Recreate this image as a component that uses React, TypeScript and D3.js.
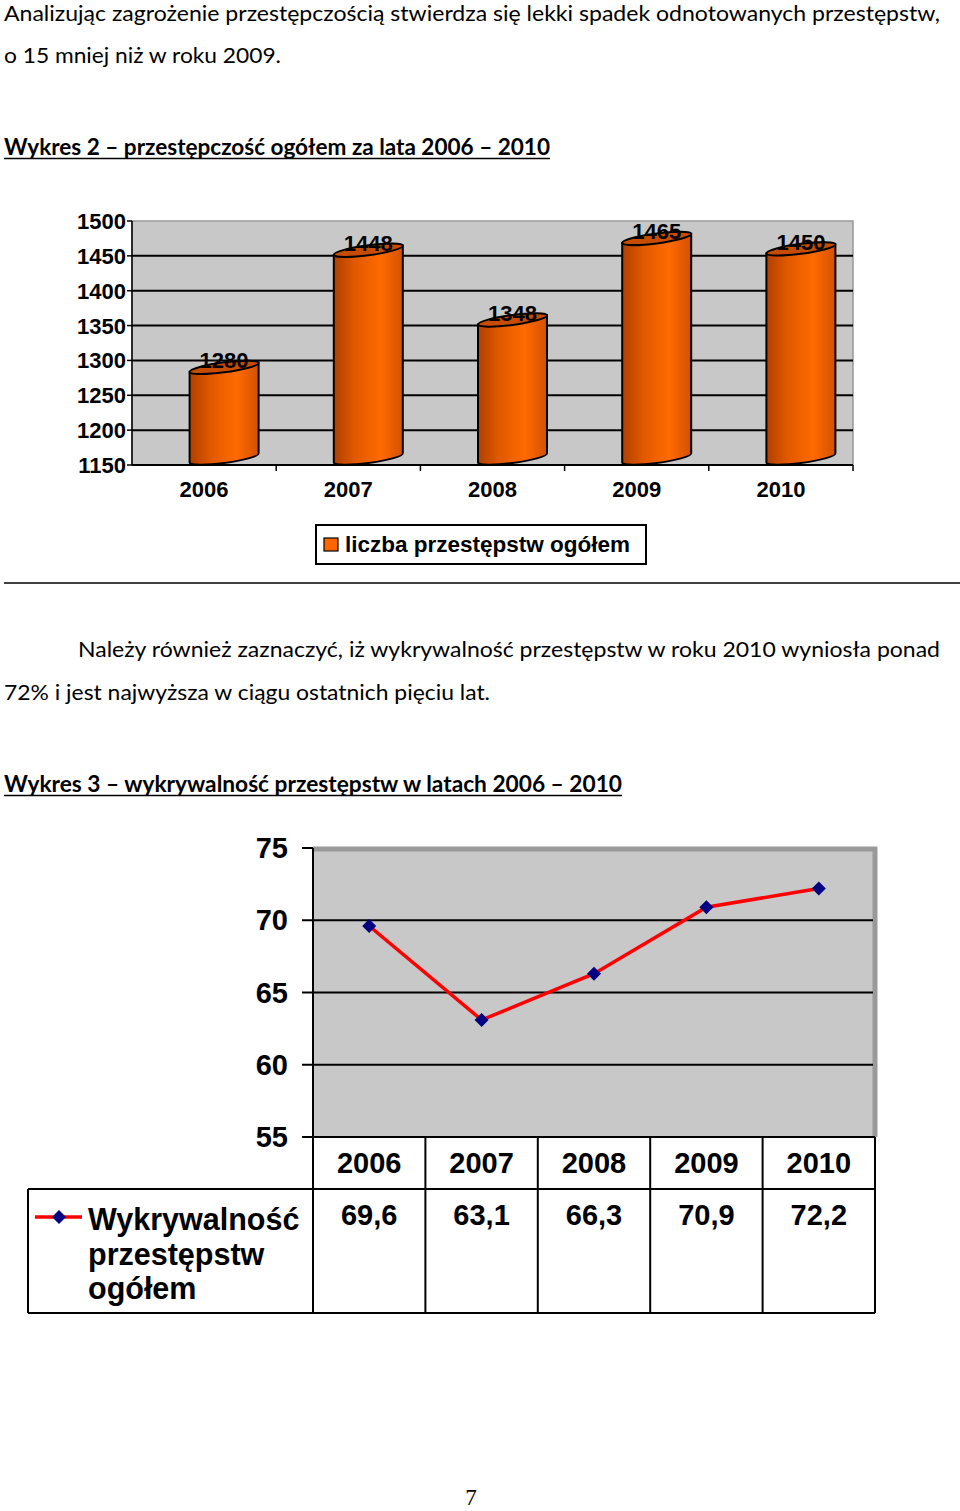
import React from "react";
import * as d3 from "d3";

const barYears = ["2006", "2007", "2008", "2009", "2010"];
const barValues = [1280, 1448, 1348, 1465, 1450];
const barTicks = [1150, 1200, 1250, 1300, 1350, 1400, 1450, 1500];
const barLegend = "liczba przestępstw ogółem";

const lineYears = ["2006", "2007", "2008", "2009", "2010"];
const lineValues = [69.6, 63.1, 66.3, 70.9, 72.2];
const lineLabels = ["69,6", "63,1", "66,3", "70,9", "72,2"];
const lineTicks = [55, 60, 65, 70, 75];
const lineLegend = ["Wykrywalność", "przestępstw", "ogółem"];

const body = "Lato, 'Open Sans', sans-serif";
const arial = "'Liberation Sans', Arial, sans-serif";

export default function App() {
  // Bar chart geometry
  const bx0 = 132, bx1 = 853, by0 = 465, by1 = 221;
  const xb = d3.scaleBand().domain(barYears).range([bx0, bx1]).padding(0);
  const yb = d3.scaleLinear().domain([1150, 1500]).range([by0, by1]);
  const rx = 34.5, ry = 5, skew = -7.43, off = 7;

  // Line chart geometry
  const lx0 = 313, lx1 = 875, ly0 = 1137, ly1 = 848;
  const xl = d3.scaleBand().domain(lineYears).range([lx0, lx1]).padding(0);
  const yl = d3.scaleLinear().domain([55, 75]).range([ly0, ly1]);
  const pts = lineValues.map((v, i) => [xl(lineYears[i])! + xl.bandwidth() / 2, yl(v)] as [number, number]);
  const lineGen = d3.line();
  const rowTop = 1189, rowBot = 1313, legX = 28;

  return (
    <svg width={960} height={1511} style={{ position: "absolute", left: 0, top: 0, display: "block", background: "#fff" }}>
      <defs>
        <linearGradient id="cyl" x1="0" x2="1" y1="0" y2="0">
          <stop offset="0" stopColor="#b04000" />
          <stop offset="0.3" stopColor="#e05800" />
          <stop offset="0.68" stopColor="#ff6a00" />
          <stop offset="1" stopColor="#d45000" />
        </linearGradient>
      </defs>

      {/* Text */}
      <text x={4} y={21} fontFamily={body} fontSize={21} textLength={936} lengthAdjust="spacingAndGlyphs">
        Analizując zagrożenie przestępczością stwierdza się lekki spadek odnotowanych przestępstw,
      </text>
      <text x={4} y={63} fontFamily={body} fontSize={22} textLength={277} lengthAdjust="spacingAndGlyphs">
        o 15 mniej niż w roku 2009.
      </text>
      <text x={4} y={155} fontFamily={body} fontSize={22} fontWeight="bold" textLength={546} lengthAdjust="spacingAndGlyphs">
        Wykres 2 – przestępczość ogółem za lata 2006 – 2010
      </text>
      <line x1={4} x2={550} y1={158.5} y2={158.5} stroke="#000" strokeWidth={1.5} />

      {/* Bar chart */}
      <rect x={bx0} y={by1} width={bx1 - bx0} height={by0 - by1} fill="#c8c8c8" stroke="#999" strokeWidth={1.5} />
      {barTicks.slice(1, -1).map((t) => (
        <line key={t} x1={bx0} x2={bx1} y1={yb(t)} y2={yb(t)} stroke="#000" strokeWidth={2} />
      ))}
      <line x1={bx0} x2={bx0} y1={by1} y2={by0} stroke="#000" strokeWidth={1.5} />
      {barTicks.map((t) => (
        <g key={t}>
          <line x1={127} x2={bx0} y1={yb(t)} y2={yb(t)} stroke="#000" strokeWidth={1.5} />
          <text x={126} y={yb(t) + 8} textAnchor="end" fontFamily={arial} fontSize={22} fontWeight="bold">{t}</text>
        </g>
      ))}
      {barYears.map((yr, i) => {
        const cx = xb(yr)! + xb.bandwidth() / 2 + 20;
        const yt = yb(barValues[i]) - off;
        const ybase = by0 - off;
        return (
          <g key={yr} transform={`translate(${cx},0) skewY(${skew})`}>
            <path
              d={`M${-rx},${yt} L${-rx},${ybase} A${rx},${ry} 0 0 0 ${rx},${ybase} L${rx},${yt} Z`}
              fill="url(#cyl)" stroke="#000" strokeWidth={2}
            />
            <ellipse cx={0} cy={yt} rx={rx} ry={ry} fill="#c84c00" stroke="#000" strokeWidth={2} />
          </g>
        );
      })}
      {barYears.map((yr, i) => {
        const cx = xb(yr)! + xb.bandwidth() / 2 + 20;
        return (
          <text key={yr} x={cx} y={yb(barValues[i]) - 6} textAnchor="middle" fontFamily={arial} fontSize={22} fontWeight="bold">
            {barValues[i]}
          </text>
        );
      })}
      <line x1={bx0} x2={bx1} y1={by0} y2={by0} stroke="#000" strokeWidth={2} />
      {barYears.map((yr) => (
        <g key={yr}>
          <line x1={xb(yr)! + xb.bandwidth()} x2={xb(yr)! + xb.bandwidth()} y1={by0} y2={471} stroke="#000" strokeWidth={1.5} />
          <text x={xb(yr)! + xb.bandwidth() / 2} y={497} textAnchor="middle" fontFamily={arial} fontSize={22} fontWeight="bold">{yr}</text>
        </g>
      ))}
      <rect x={316} y={525} width={330} height={39} fill="#fff" stroke="#000" strokeWidth={2} />
      <rect x={324} y={538} width={14} height={13} fill="#ff6600" stroke="#000" strokeWidth={1.2} />
      <text x={345} y={552} fontFamily={arial} fontSize={22.5} fontWeight="bold">{barLegend}</text>

      <line x1={4} x2={960} y1={583} y2={583} stroke="#000" strokeWidth={1.5} />

      <text x={78} y={657} fontFamily={body} fontSize={22} textLength={862} lengthAdjust="spacingAndGlyphs">
        Należy również zaznaczyć, iż wykrywalność przestępstw w roku 2010 wyniosła ponad
      </text>
      <text x={4} y={700} fontFamily={body} fontSize={22} textLength={486} lengthAdjust="spacingAndGlyphs">
        72% i jest najwyższa w ciągu ostatnich pięciu lat.
      </text>
      <text x={4} y={792} fontFamily={body} fontSize={22} fontWeight="bold" textLength={618} lengthAdjust="spacingAndGlyphs">
        Wykres 3 – wykrywalność przestępstw w latach 2006 – 2010
      </text>
      <line x1={4} x2={622} y1={795.5} y2={795.5} stroke="#000" strokeWidth={1.5} />

      {/* Line chart */}
      <rect x={lx0} y={ly1} width={lx1 - lx0} height={ly0 - ly1} fill="#c8c8c8" />
      <line x1={lx0} x2={lx1 + 2} y1={ly1 + 1} y2={ly1 + 1} stroke="#999" strokeWidth={5} />
      <line x1={lx1} x2={lx1} y1={ly1 - 1} y2={ly0} stroke="#999" strokeWidth={5} />
      {lineTicks.slice(1, -1).map((t) => (
        <line key={t} x1={lx0} x2={lx1 - 2} y1={yl(t)} y2={yl(t)} stroke="#000" strokeWidth={2} />
      ))}
      <line x1={lx0} x2={lx0} y1={ly1} y2={ly0} stroke="#000" strokeWidth={2} />
      {lineTicks.map((t) => (
        <g key={t}>
          <line x1={302} x2={lx0} y1={yl(t)} y2={yl(t)} stroke="#000" strokeWidth={2} />
          <text x={288} y={yl(t) + 10} textAnchor="end" fontFamily={arial} fontSize={29} fontWeight="bold">{t}</text>
        </g>
      ))}
      <path d={lineGen(pts)!} fill="none" stroke="#ff0000" strokeWidth={3.5} />
      {pts.map(([x, y], i) => (
        <path key={i} d={`M${x},${y - 7}L${x + 7},${y}L${x},${y + 7}L${x - 7},${y}Z`} fill="#000080" />
      ))}

      {/* Data table */}
      <line x1={lx0} x2={lx1} y1={ly0} y2={ly0} stroke="#000" strokeWidth={2} />
      <line x1={legX} x2={lx1} y1={rowTop} y2={rowTop} stroke="#000" strokeWidth={2} />
      <line x1={legX} x2={lx1} y1={rowBot} y2={rowBot} stroke="#000" strokeWidth={2} />
      <line x1={legX} x2={legX} y1={rowTop} y2={rowBot} stroke="#000" strokeWidth={2} />
      <line x1={lx0} x2={lx0} y1={ly0} y2={rowBot} stroke="#000" strokeWidth={2} />
      {lineYears.map((yr, i) => {
        const x = xl(yr)!;
        const cx = x + xl.bandwidth() / 2;
        return (
          <g key={yr}>
            <line x1={x + xl.bandwidth()} x2={x + xl.bandwidth()} y1={ly0} y2={rowBot} stroke="#000" strokeWidth={2} />
            <text x={cx} y={1173} textAnchor="middle" fontFamily={arial} fontSize={29} fontWeight="bold">{yr}</text>
            <text x={cx} y={1225} textAnchor="middle" fontFamily={arial} fontSize={29} fontWeight="bold">{lineLabels[i]}</text>
          </g>
        );
      })}
      <line x1={35} x2={82} y1={1217} y2={1217} stroke="#ff0000" strokeWidth={3.5} />
      <path d="M59,1210L66,1217L59,1224L52,1217Z" fill="#000080" />
      {lineLegend.map((s, i) => (
        <text key={s} x={88} y={1230 + i * 34.5} fontFamily={arial} fontSize={30.5} fontWeight="bold">{s}</text>
      ))}

      <text x={471} y={1505} textAnchor="middle" fontFamily="'Liberation Serif', 'Times New Roman', serif" fontSize={23}>7</text>
    </svg>
  );
}
